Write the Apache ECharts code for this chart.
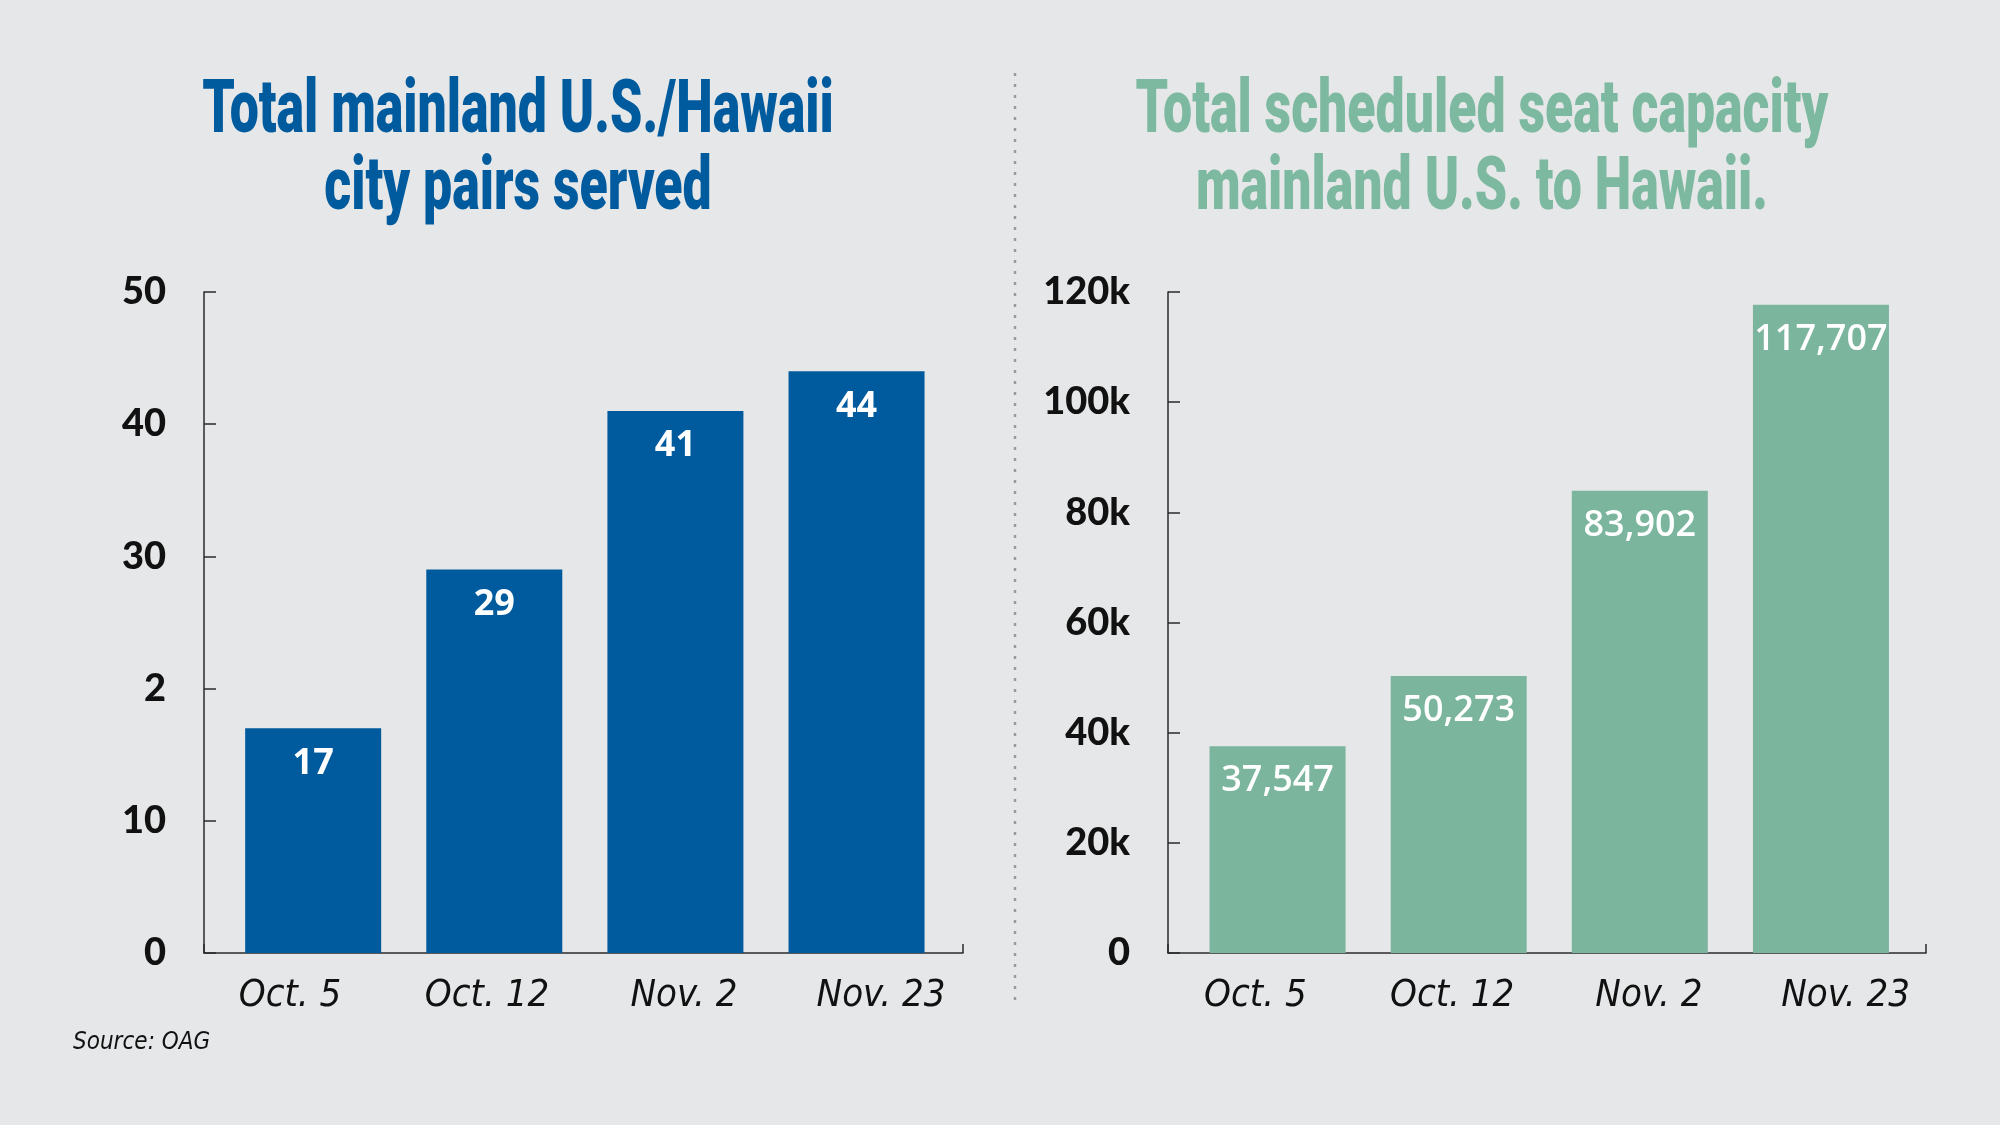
<!DOCTYPE html>
<html lang="en">
<head>
    <meta charset="UTF-8">
    <title>Mainland U.S. / Hawaii</title>
    <style>
        html, body {
            margin: 0;
            padding: 0;
            background: #e6e7e8;
        }
    </style>
</head>
<body>
<div id="myChart" style="width: 2000px;height: 1125px;"></div>
<script src="https://cdn.jsdelivr.net/npm/echarts@6/dist/echarts.min.js"></script>
<script>
    // data
    var dates = ['Oct. 5', 'Oct. 12', 'Nov. 2', 'Nov. 23'];
    var cityPairs = [17, 29, 41, 44];
    var seatCapacity = [37547, 50273, 83902, 117707];
    // tick labels as printed (the "2" is in the original)
    var pairTickLabels = ['0', '10', '2', '30', '40', '50'];
    var seatTickLabels = ['0', '20k', '40k', '60k', '80k', '100k', '120k'];

    var blue = '#005b9e';
    var green = '#7bb59e';
    var axisColor = '#2b2b2b';
    var titleFont = 'Roboto, "DejaVu Sans", sans-serif';
    var tickFont = 'Lato, "DejaVu Sans", sans-serif';
    var catFont = '"Liberation Sans Narrow", "DejaVu Sans Condensed", "Open Sans", sans-serif';

    var myChart = echarts.init(document.getElementById('myChart'));

    // three grids per panel: frame (axes), bars, and the date labels
    function frameX(gridIndex) {
        return {
            type: 'value', gridIndex: gridIndex, min: 0, max: 1, interval: 1,
            axisLine: {show: true, lineStyle: {color: axisColor, width: 1.5}},
            axisTick: {show: true, inside: true, length: 9, lineStyle: {color: axisColor, width: 1.5}},
            axisLabel: {show: false},
            splitLine: {show: false}
        };
    }

    function valueAxis(gridIndex, max, interval, labels) {
        return {
            type: 'value', gridIndex: gridIndex, min: 0, max: max, interval: interval,
            axisLine: {show: true, lineStyle: {color: axisColor, width: 1.5}},
            axisTick: {show: true, inside: true, length: 12, lineStyle: {color: axisColor, width: 1.5}},
            splitLine: {show: false},
            axisLabel: {
                margin: 38,
                color: '#111',
                fontFamily: tickFont,
                fontWeight: 900,
                fontSize: 38,
                formatter: function (v) {
                    return labels[Math.round(v / interval)];
                }
            }
        };
    }

    function barX(gridIndex) {
        return {
            type: 'category', gridIndex: gridIndex, data: dates,
            axisLine: {show: false}, axisTick: {show: false}, axisLabel: {show: false}
        };
    }

    function labelX(gridIndex) {
        return {
            type: 'category', gridIndex: gridIndex, data: dates,
            axisLine: {show: false},
            axisTick: {show: false},
            axisLabel: {
                margin: 24,
                color: '#111',
                fontFamily: catFont,
                fontStyle: 'italic',
                fontSize: 38
            }
        };
    }

    function hiddenValue(gridIndex, max) {
        return {type: 'value', gridIndex: gridIndex, min: 0, max: max, show: false};
    }

    var option = {
        backgroundColor: '#e6e7e8',
        animation: false,
        grid: [
            {left: 204, top: 292, width: 759, height: 661},
            {left: 222.6, top: 292, width: 724.5, height: 661},
            {left: 191.5, top: 292, width: 788, height: 661},
            {left: 1168, top: 292, width: 758, height: 661},
            {left: 1187, top: 292, width: 724.5, height: 661},
            {left: 1157, top: 292, width: 787, height: 661}
        ],
        xAxis: [
            frameX(0), barX(1), labelX(2),
            frameX(3), barX(4), labelX(5)
        ],
        yAxis: [
            valueAxis(0, 50, 10, pairTickLabels),
            hiddenValue(1, 50),
            hiddenValue(2, 50),
            valueAxis(3, 120000, 20000, seatTickLabels),
            hiddenValue(4, 120000),
            hiddenValue(5, 120000)
        ],
        series: [
            {
                type: 'bar',
                name: 'City pairs',
                xAxisIndex: 1,
                yAxisIndex: 1,
                barWidth: 136,
                itemStyle: {color: blue},
                label: {
                    show: true,
                    position: 'insideTop',
                    distance: 17,
                    color: '#fff',
                    fontFamily: '"Open Sans", sans-serif',
                    fontWeight: 'bold',
                    fontSize: 36
                },
                data: cityPairs
            },
            {
                type: 'bar',
                name: 'Seat capacity',
                xAxisIndex: 4,
                yAxisIndex: 4,
                barWidth: 136,
                itemStyle: {color: green},
                label: {
                    show: true,
                    position: 'insideTop',
                    distance: 17,
                    color: '#fff',
                    fontFamily: '"Open Sans", sans-serif',
                    fontWeight: 600,
                    fontSize: 36,
                    formatter: function (p) {
                        return p.value.toLocaleString('en-US');
                    }
                },
                data: seatCapacity
            }
        ],
        graphic: [
            // titles, squeezed to mimic the condensed headline face
            {
                type: 'text', x: 518, y: 113, scaleX: 0.7,
                style: {
                    text: 'Total mainland U.S./Hawaii', fill: blue,
                    font: '900 74px ' + titleFont, textAlign: 'center', textVerticalAlign: 'middle'
                }
            },
            {
                type: 'text', x: 518, y: 190, scaleX: 0.7,
                style: {
                    text: 'city pairs served', fill: blue,
                    font: '900 74px ' + titleFont, textAlign: 'center', textVerticalAlign: 'middle'
                }
            },
            {
                type: 'text', x: 1482, y: 113, scaleX: 0.7,
                style: {
                    text: 'Total scheduled seat capacity', fill: '#7db9a0',
                    font: '900 74px ' + titleFont, textAlign: 'center', textVerticalAlign: 'middle'
                }
            },
            {
                type: 'text', x: 1482, y: 190, scaleX: 0.7,
                style: {
                    text: 'mainland U.S. to Hawaii.', fill: '#7db9a0',
                    font: '900 74px ' + titleFont, textAlign: 'center', textVerticalAlign: 'middle'
                }
            },
            // dotted divider
            {
                type: 'line',
                shape: {x1: 1015, y1: 73, x2: 1015, y2: 1008},
                style: {stroke: '#9a9a9a', lineWidth: 2.5, lineDash: [3, 8]}
            },
            {
                type: 'text', x: 73, y: 1043,
                style: {
                    text: 'Source: OAG', fill: '#111',
                    font: 'italic 24px ' + catFont, textAlign: 'left', textVerticalAlign: 'middle'
                }
            }
        ]
    };
    myChart.setOption(option);
</script>
</body>
</html>
